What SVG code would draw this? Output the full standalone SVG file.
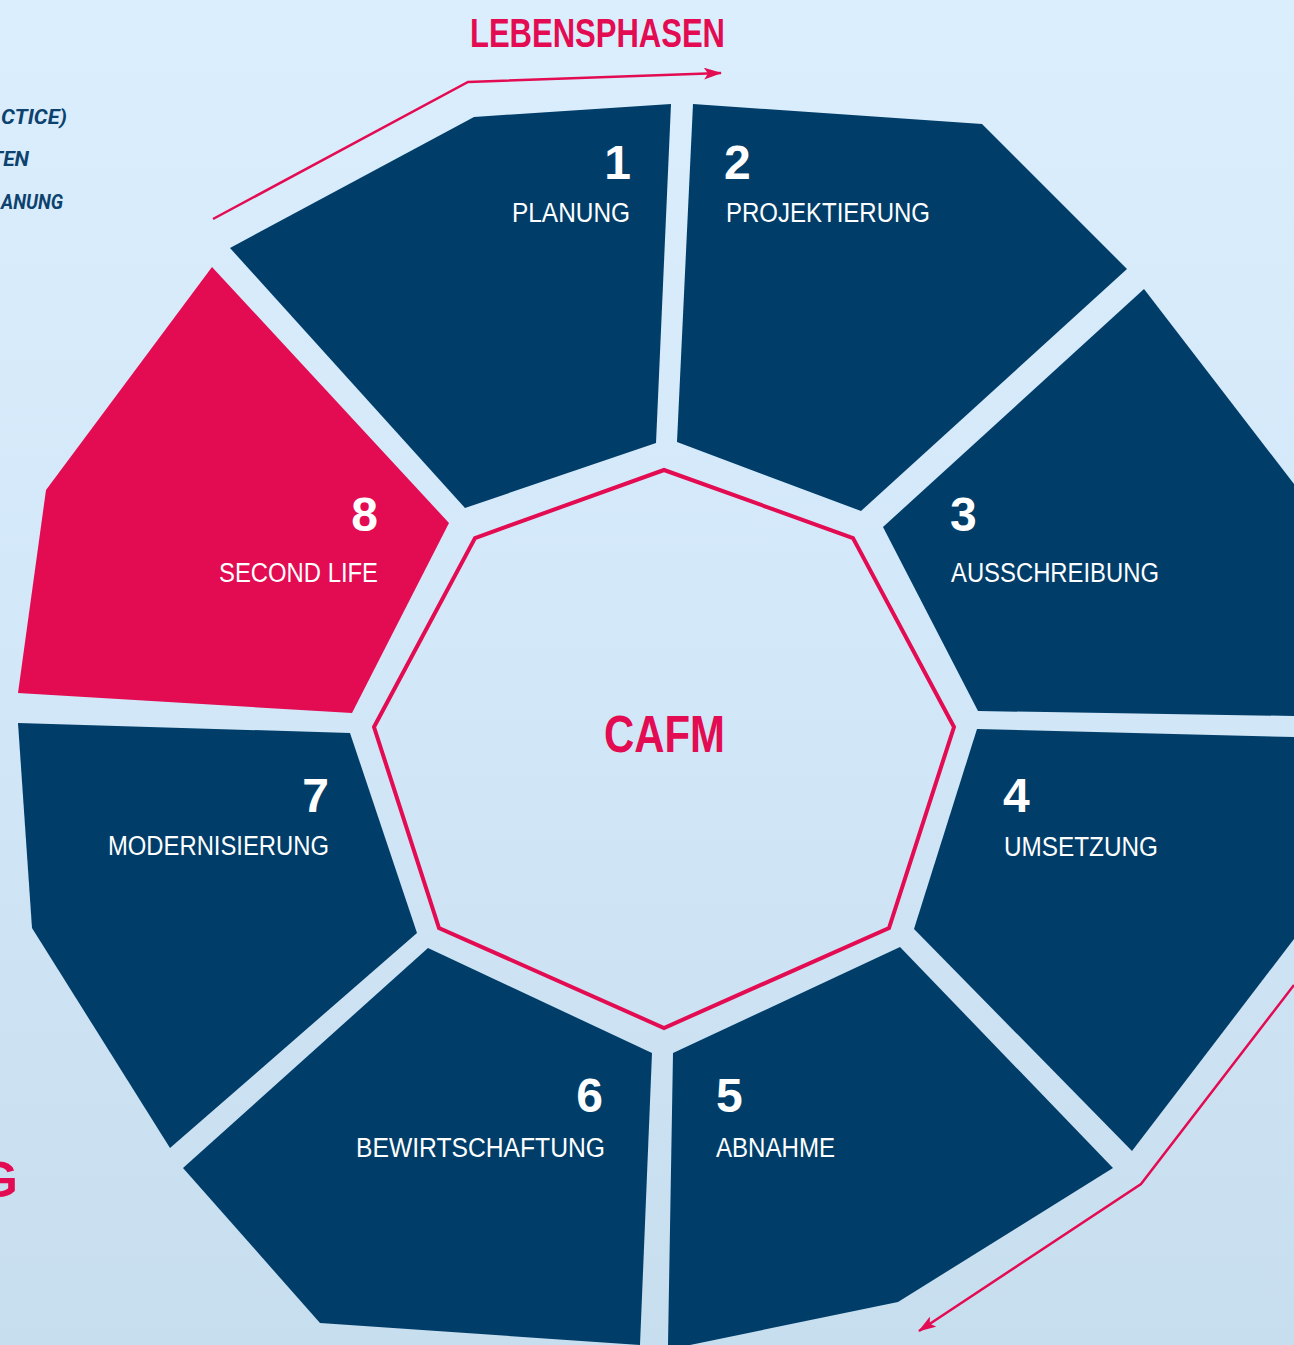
<svg xmlns="http://www.w3.org/2000/svg" width="1294" height="1345" viewBox="0 0 1294 1345">
<defs>
<linearGradient id="bg" x1="0" y1="0" x2="0" y2="1">
<stop offset="0" stop-color="#dbeefd"/>
<stop offset="0.5" stop-color="#d2e7f8"/>
<stop offset="1" stop-color="#c7deef"/>
</linearGradient>
<marker id="ah" viewBox="0 0 18 12" refX="17" refY="6" markerWidth="18" markerHeight="12" markerUnits="userSpaceOnUse" orient="auto">
<path d="M0,0 L18,6 L0,12 L4,6 Z" fill="#e30b52"/>
</marker>
<style>
.seg{fill:#003e69}
.pink{fill:#e30b52}
.num{font-family:"Liberation Sans","DejaVu Sans",sans-serif;font-weight:700;font-size:48px;fill:#ffffff}
.lbl{font-family:"Liberation Sans","DejaVu Sans",sans-serif;font-weight:400;font-size:27px;fill:#ffffff}
.side{font-family:Roboto,"Liberation Sans",sans-serif;font-weight:700;font-style:italic;font-size:21px;fill:#0d426f}
.title{font-family:"Liberation Sans","DejaVu Sans",sans-serif;font-weight:700;fill:#e30b52}
.conn{fill:none;stroke:#e30b52;stroke-width:2.5}
</style>
</defs>
<rect width="1294" height="1345" fill="url(#bg)"/>

<text class="side" x="1" y="124" textLength="66" lengthAdjust="spacingAndGlyphs">CTICE)</text>
<text class="side" x="29" y="166" text-anchor="end">TEN</text>
<text class="side" x="1" y="209" textLength="62" lengthAdjust="spacingAndGlyphs">ANUNG</text>
<text class="title" x="18" y="1197" text-anchor="end" font-size="50">G</text>

<text class="title" x="470" y="47" font-size="40" textLength="255" lengthAdjust="spacingAndGlyphs">LEBENSPHASEN</text>

<g id="connectors">
<polyline class="conn" points="213,219 468,82 721,73" marker-end="url(#ah)"/>
<polyline class="conn" points="1294,985 1141,1184 919,1331" marker-end="url(#ah)"/>
</g>

<g id="node-1">
<polygon class="seg" points="474,117 671,104 656,443 465,508 230,248"/>
<text class="num" x="631" y="179" text-anchor="end">1</text>
<text class="lbl" x="512" y="222" textLength="118" lengthAdjust="spacingAndGlyphs">PLANUNG</text>
</g>
<g id="node-2">
<polygon class="seg" points="693,104 982,124 1127,269 861,511 677,442"/>
<text class="num" x="724" y="179">2</text>
<text class="lbl" x="726" y="222" textLength="204" lengthAdjust="spacingAndGlyphs">PROJEKTIERUNG</text>
</g>
<g id="node-3">
<polygon class="seg" points="1144,289 1294,484 1294,716 978,711 883,527"/>
<text class="num" x="950" y="531">3</text>
<text class="lbl" x="951" y="582" textLength="208" lengthAdjust="spacingAndGlyphs">AUSSCHREIBUNG</text>
</g>
<g id="node-4">
<polygon class="seg" points="977,729 1294,737 1294,939 1132,1151 914,929"/>
<text class="num" x="1003" y="812">4</text>
<text class="lbl" x="1004" y="856" textLength="154" lengthAdjust="spacingAndGlyphs">UMSETZUNG</text>
</g>
<g id="node-5">
<polygon class="seg" points="900,947 1113,1168 898,1302 690,1345 668,1345 673,1053"/>
<text class="num" x="716" y="1112">5</text>
<text class="lbl" x="716" y="1157" textLength="119" lengthAdjust="spacingAndGlyphs">ABNAHME</text>
</g>
<g id="node-6">
<polygon class="seg" points="428,948 652,1053 640,1345 320,1323 183,1168"/>
<text class="num" x="603" y="1112" text-anchor="end">6</text>
<text class="lbl" x="356" y="1157" textLength="249" lengthAdjust="spacingAndGlyphs">BEWIRTSCHAFTUNG</text>
</g>
<g id="node-7">
<polygon class="seg" points="18,723 350,733 417,933 170,1148 32,928"/>
<text class="num" x="329" y="812" text-anchor="end">7</text>
<text class="lbl" x="108" y="855" textLength="221" lengthAdjust="spacingAndGlyphs">MODERNISIERUNG</text>
</g>
<g id="node-8">
<polygon class="pink" points="212,267 449,523 352,713 18,693 46,490"/>
<text class="num" x="378" y="531" text-anchor="end">8</text>
<text class="lbl" x="219" y="582" textLength="159" lengthAdjust="spacingAndGlyphs">SECOND LIFE</text>
</g>
<g id="node-center">
<polygon points="664,470 853,538 954,727 889,928 664,1028 439,928 374,727 475,538" fill="none" stroke="#e30b52" stroke-width="4" stroke-linejoin="miter"/>
<text class="title" x="604" y="752" font-size="51" textLength="121" lengthAdjust="spacingAndGlyphs">CAFM</text>
</g>
</svg>
